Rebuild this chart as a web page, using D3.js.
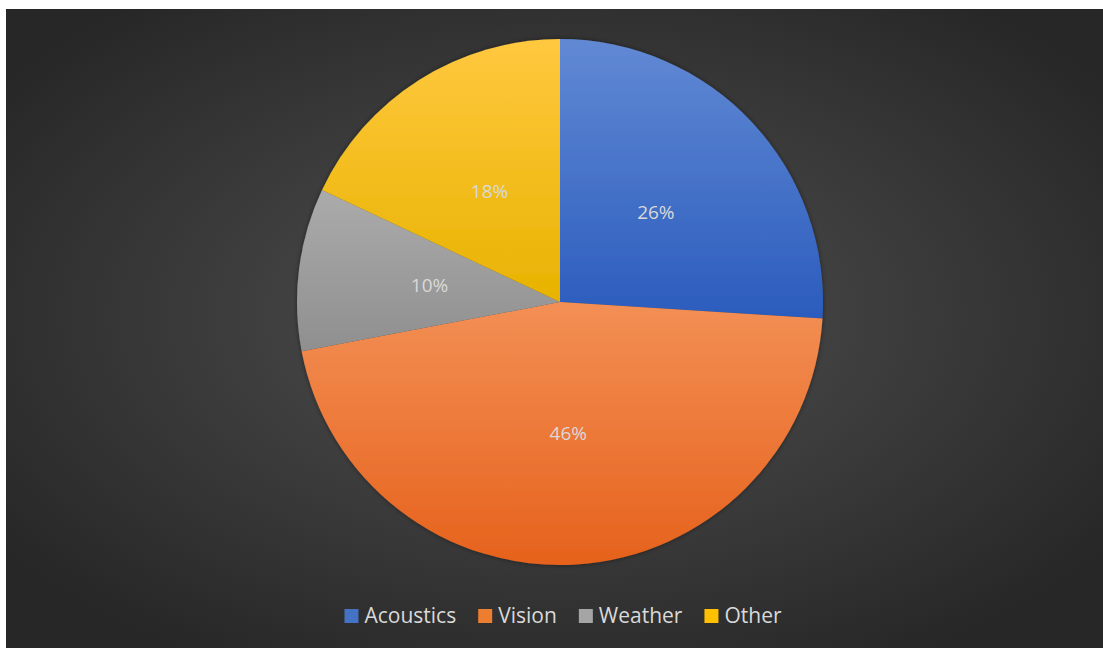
<!DOCTYPE html>
<html>
<head>
<meta charset="utf-8">
<script src="https://cdn.jsdelivr.net/npm/d3@7/dist/d3.min.js"></script>
<style>
  html, body { margin: 0; padding: 0; background: #ffffff; }
  svg { display: block; }
</style>
</head>
<body>
<svg id="chart" width="1103" height="648"></svg>
<script>
// Share of work by area (percent)
const categories = ["Acoustics", "Vision", "Weather", "Other"];
const shares = [26, 46, 10, 18];
const labels = ["26%", "46%", "10%", "18%"];
// Slice fills: lighter top, darker bottom
const topColors = ["#6189d4", "#f38f55", "#ababab", "#ffc83f"];
const bottomColors = ["#2b5cbd", "#e6621c", "#8f8f8f", "#e8b300"];
const legendColors = ["#4472c4", "#ed7d31", "#a5a5a5", "#ffc000"];

const svg = d3.select("#chart");
const W = 1103, H = 648;
const frame = { x: 6, y: 9, w: W - 6, h: H - 9 };
const defs = svg.append("defs");

const bg = defs.append("radialGradient")
  .attr("id", "bgGrad").attr("cx", "50%").attr("cy", "48%").attr("r", "62%");
bg.append("stop").attr("offset", "0%").attr("stop-color", "#515151");
bg.append("stop").attr("offset", "100%").attr("stop-color", "#272727");

svg.append("rect")
  .attr("x", frame.x).attr("y", frame.y)
  .attr("width", frame.w).attr("height", frame.h)
  .attr("fill", "url(#bgGrad)");

categories.forEach((c, i) => {
  const g = defs.append("linearGradient")
    .attr("id", "slice" + i).attr("x1", 0).attr("y1", 0).attr("x2", 0).attr("y2", 1);
  g.append("stop").attr("offset", "0%").attr("stop-color", topColors[i]);
  g.append("stop").attr("offset", "100%").attr("stop-color", bottomColors[i]);
});

const shadow = defs.append("filter").attr("id", "pieShadow")
  .attr("x", "-10%").attr("y", "-10%").attr("width", "120%").attr("height", "120%");
shadow.append("feDropShadow").attr("dx", 0).attr("dy", 0).attr("stdDeviation", 2.5)
  .attr("flood-color", "#000").attr("flood-opacity", 0.45);

const cx = 560, cy = 302, R = 263;
const pie = d3.pie().sort(null).value(d => d)(shares);
const arc = d3.arc().innerRadius(0).outerRadius(R);
const labelArc = d3.arc().innerRadius(R * 0.5).outerRadius(R * 0.5);

const pg = svg.append("g").attr("transform", `translate(${cx},${cy})`);
pg.append("g").attr("filter", "url(#pieShadow)")
  .selectAll("path").data(pie).join("path")
  .attr("d", arc)
  .attr("fill", (d, i) => `url(#slice${i})`);

pg.selectAll("text.lbl").data(pie).join("text")
  .attr("class", "lbl")
  .attr("transform", d => `translate(${labelArc.centroid(d)})`)
  .attr("text-anchor", "middle").attr("dy", "0.35em")
  .attr("font-family", "'Open Sans', 'Noto Sans', sans-serif")
  .attr("font-size", 19)
  .attr("fill", "#d9d9d9")
  .text((d, i) => labels[i]);

// Legend, centred under the pie
const legend = svg.append("g");
const sq = 14, gapText = 6, gapItem = 22, ly = 616;
const items = legend.selectAll("g").data(categories).join("g");
items.append("rect").attr("width", sq).attr("height", sq)
  .attr("y", ly - sq / 2)
  .attr("fill", (d, i) => legendColors[i]);
items.append("text")
  .attr("x", sq + gapText).attr("y", ly).attr("dy", "0.35em")
  .attr("font-family", "'Open Sans', 'Noto Sans', sans-serif")
  .attr("font-size", 21)
  .attr("fill", "#d9d9d9")
  .text(d => d);
let widths = [];
items.each(function () { widths.push(sq + gapText + d3.select(this).select("text").node().getComputedTextLength()); });
const total = d3.sum(widths) + gapItem * (widths.length - 1);
let x0 = cx - total / 2 + 3;
items.attr("transform", (d, i) => { const t = `translate(${x0},0)`; x0 += widths[i] + gapItem; return t; });
</script>
</body>
</html>
